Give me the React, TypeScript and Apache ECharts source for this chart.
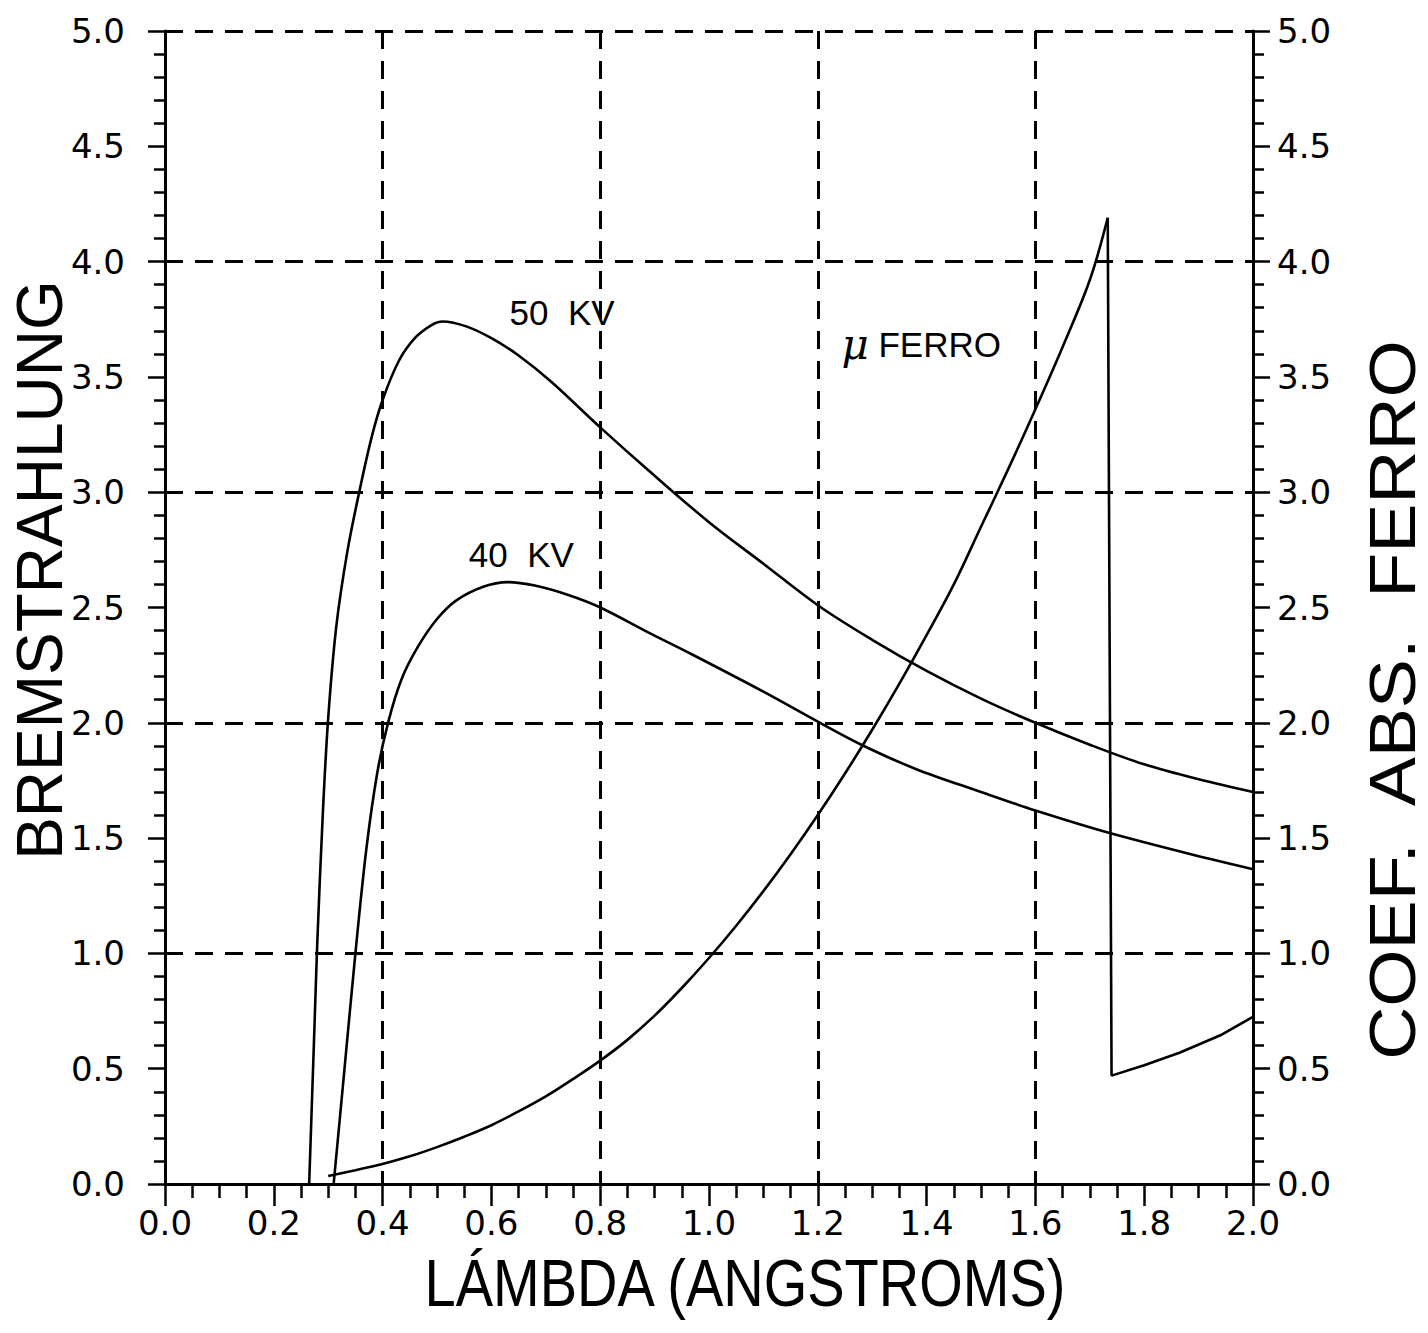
import React, { useEffect, useRef } from "react";
import * as echarts from "echarts";

// 50 KV bremsstrahlung curve
const kv50X = [0.265, 0.27, 0.275, 0.28, 0.29, 0.3, 0.315, 0.335, 0.357, 0.38, 0.4, 0.43, 0.46, 0.49, 0.51, 0.555, 0.6, 0.65, 0.71, 0.8, 0.89, 1.0, 1.1, 1.2, 1.3, 1.4, 1.5, 1.6, 1.7, 1.8, 1.9, 2.0];
const kv50Y = [0, 0.35, 0.7, 1.05, 1.6, 2.02, 2.42, 2.74, 3.0, 3.24, 3.4, 3.57, 3.67, 3.725, 3.74, 3.718, 3.668, 3.593, 3.479, 3.281, 3.092, 2.87, 2.69, 2.51, 2.36, 2.225, 2.105, 2.0, 1.905, 1.82, 1.755, 1.7];

// 40 KV bremsstrahlung curve
const kv40X = [0.31, 0.33, 0.35, 0.37, 0.39, 0.41, 0.435, 0.465, 0.5, 0.535, 0.585, 0.63, 0.68, 0.74, 0.8, 0.89, 0.97, 1.1, 1.2, 1.28, 1.38, 1.5, 1.6, 1.74, 1.92, 2.0];
const kv40Y = [0, 0.5, 1.0, 1.45, 1.78, 2.0, 2.19, 2.33, 2.45, 2.53, 2.59, 2.61, 2.595, 2.555, 2.5, 2.39, 2.295, 2.135, 2.005, 1.905, 1.8, 1.7, 1.62, 1.52, 1.41, 1.365];

// mu (absorption coefficient) of iron, below the K edge
const muX = [0.3, 0.35, 0.4, 0.45, 0.5, 0.55, 0.6, 0.65, 0.7, 0.75, 0.8, 0.85, 0.9, 0.95, 1.0, 1.05, 1.1, 1.15, 1.2, 1.25, 1.3, 1.35, 1.4, 1.45, 1.5, 1.55, 1.6, 1.65, 1.7, 1.733];
const muY = [0.035, 0.06, 0.087, 0.12, 0.16, 0.205, 0.255, 0.315, 0.38, 0.455, 0.535, 0.625, 0.73, 0.85, 0.98, 1.12, 1.27, 1.43, 1.6, 1.78, 1.97, 2.17, 2.38, 2.6, 2.85, 3.1, 3.36, 3.63, 3.92, 4.19];
// K edge drop and beyond
const muEdgeX = [1.733, 1.74, 1.8, 1.866, 1.94, 2.0];
const muEdgeY = [4.19, 0.47, 0.515, 0.57, 0.645, 0.725];

// curve annotations (data coordinates)
const labelNames = ["50  KV", "40  KV", "{m|μ} FERRO"];
const labelX = [0.73, 0.655, 1.39];
const labelY = [3.78, 2.73, 3.64];

const xTitle = "LÁMBDA (ANGSTROMS)";
const yTitleLeft = "BREMSTRAHLUNG";
const yTitleRight = "COEF.  ABS.  FERRO";

const zip = (xs: number[], ys: number[]) => xs.map((x, i) => [x, ys[i]]);

export default function App() {
  const ref = useRef<HTMLDivElement>(null);
  useEffect(() => {
    const chart = echarts.init(ref.current!, null, { renderer: "svg" });
    const font = "'Liberation Sans', Arial, sans-serif";
    const tickFont = "'DejaVu Sans', sans-serif";
    const dash = [18, 12];
    const black = "#000";
    const fmt = (v: number) => v.toFixed(1);

    const yBase = {
      type: "value",
      min: 0,
      max: 5,
      interval: 0.5,
      axisLine: { show: true, onZero: false, lineStyle: { color: black, width: 3 } },
      axisTick: { show: true, inside: false, length: 17, lineStyle: { color: black, width: 2.5 } },
      minorTick: { show: true, splitNumber: 5, length: 11, lineStyle: { color: black, width: 2.5 } },
      splitLine: { show: false },
      minorSplitLine: { show: false },
    };

    const lineBase = {
      type: "line",
      xAxisIndex: 0,
      yAxisIndex: 0,
      showSymbol: false,
      lineStyle: { color: black, width: 2.6 },
      z: 5,
    };

    const option = {
      animation: false,
      backgroundColor: "#fff",
      grid: { left: 165, right: 175, top: 31, bottom: 149, containLabel: false },
      xAxis: [
        {
          type: "value",
          min: 0,
          max: 2,
          interval: 0.2,
          position: "bottom",
          axisLine: { show: true, onZero: false, lineStyle: { color: black, width: 3 } },
          axisTick: { show: true, inside: false, length: 22, lineStyle: { color: black, width: 2.5 } },
          minorTick: { show: true, splitNumber: 4, length: 14, lineStyle: { color: black, width: 2.5 } },
          axisLabel: { color: black, fontSize: 34, fontFamily: tickFont, margin: 22, formatter: fmt },
          splitLine: { show: false },
        },
        {
          type: "value",
          min: 0,
          max: 2,
          interval: 0.4,
          position: "top",
          axisLine: { show: false, onZero: false },
          axisTick: { show: false },
          axisLabel: { show: false },
          splitLine: { show: true, lineStyle: { color: black, width: 3, type: dash } },
        },
      ],
      yAxis: [
        {
          ...yBase,
          position: "left",
          axisLabel: { color: black, fontSize: 34, fontFamily: tickFont, margin: 40, formatter: fmt },
        },
        {
          ...yBase,
          position: "right",
          axisLabel: { color: black, fontSize: 34, fontFamily: tickFont, margin: 24, formatter: fmt },
        },
        {
          type: "value",
          min: 0,
          max: 5,
          interval: 1,
          position: "right",
          axisLine: { show: false, onZero: false },
          axisTick: { show: false },
          axisLabel: { show: false },
          splitLine: { show: true, lineStyle: { color: black, width: 3, type: dash } },
        },
      ],
      series: [
        { ...lineBase, name: "50 KV", data: zip(kv50X, kv50Y), smooth: 0.35 },
        { ...lineBase, name: "40 KV", data: zip(kv40X, kv40Y), smooth: 0.35 },
        { ...lineBase, name: "μ FERRO", data: zip(muX, muY), smooth: 0.35 },
        { ...lineBase, name: "μ FERRO K edge", data: zip(muEdgeX, muEdgeY), smooth: false },
        {
          name: "labels",
          type: "scatter",
          xAxisIndex: 0,
          yAxisIndex: 0,
          symbolSize: 1,
          itemStyle: { color: "rgba(0,0,0,0)", opacity: 1 },
          data: labelNames.map((n, i) => ({ name: n, value: [labelX[i], labelY[i]] })),
          label: {
            show: true,
            position: "inside",
            formatter: "{b}",
            color: black,
            opacity: 1,
            textBorderWidth: 0,
            fontSize: 35,
            fontFamily: font,
            rich: {
              m: { fontSize: 42, fontStyle: "italic", fontFamily: "'DejaVu Serif', serif", color: black },
            },
          },
          z: 6,
        },
      ],
      graphic: [
        {
          type: "text",
          x: 745,
          y: 1283,
          scaleY: 1.2,
          style: {
            text: xTitle,
            fontSize: 56,
            fontFamily: font,
            fill: black,
            align: "center",
            verticalAlign: "middle",
          },
        },
        {
          type: "text",
          x: 40,
          y: 570,
          rotation: Math.PI / 2,
          style: {
            text: yTitleLeft,
            fontSize: 64,
            fontFamily: font,
            fill: black,
            align: "center",
            verticalAlign: "middle",
          },
        },
        {
          type: "text",
          x: 1393,
          y: 700,
          rotation: Math.PI / 2,
          scaleX: 1.15,
          style: {
            text: yTitleRight,
            fontSize: 64,
            fontFamily: font,
            fill: black,
            align: "center",
            verticalAlign: "middle",
          },
        },
      ],
    };

    chart.setOption(option as any);
    return () => chart.dispose();
  }, []);

  return (
    <div
      ref={ref}
      style={{ position: "fixed", left: 0, top: 0, width: 1428, height: 1333, background: "#fff" }}
    />
  );
}
